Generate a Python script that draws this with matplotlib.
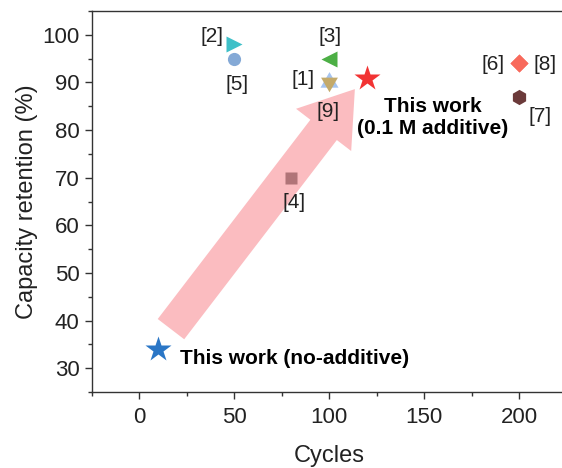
import matplotlib
matplotlib.use("Agg")
import matplotlib.pyplot as plt
from matplotlib.patches import FancyArrowPatch
from matplotlib.ticker import MultipleLocator

plt.rcParams['font.family'] = ['Liberation Sans', 'DejaVu Sans']

# Literature data: (cycles, retention)
ref_labels = ['[1]', '[2]', '[3]', '[4]', '[5]', '[6]', '[7]', '[8]', '[9]']
ref_cycles = [100, 50, 100, 80, 50, 200, 200, 200, 100]
ref_retention = [90, 98, 95, 70, 95, 94, 87, 94, 90]
tri_up = [(0, 1), (-0.866, -0.5), (0.866, -0.5)]
tri_down = [(0, -1), (-0.866, 0.5), (0.866, 0.5)]
ref_markers = [tri_up, '>', '<', 's', 'o', 'D', 'h', 'D', tri_down]
ref_colors = ['#a6c4ef', '#3fc0c8', '#4caf45', '#b07478', '#84a9d6',
              '#f86a5c', '#6b3a3a', '#f86a5c', '#c4aa6a']
ref_sizes = [15, 11, 11, 8, 9.5, 9, 11, 9, 14]
# label positions (data units)
ref_label_pos = [(86, 90.7), (38, 99.7), (100.4, 99.7), (81.4, 64.7), (51.4, 89.6),
                 (186.3, 93.8), (211, 82.9), (213.7, 93.8), (99.3, 84.0)]

# This work
work_cycles = [10, 120]
work_retention = [34, 91]
work_colors = ['#2a76c6', '#f23333']
work_texts = ['This work (no-additive)', 'This work\n(0.1 M additive)']

fig = plt.figure(figsize=(5.62, 4.68), dpi=100)
ax = fig.add_axes([92/562, 76/468, 474.5/562, 381/468])

# Arrow
arrow = FancyArrowPatch((16.6, 38.2), (113.5, 88.6),
                        arrowstyle='simple,head_length=37,head_width=50,tail_width=24',
                        mutation_scale=1, facecolor='#fbbcc0', edgecolor='none',
                        shrinkA=0, shrinkB=0, zorder=1)
ax.add_patch(arrow)

for i in [7, 0, 1, 2, 3, 4, 5, 6, 8]:
    ax.plot(ref_cycles[i], ref_retention[i], marker=ref_markers[i], ms=ref_sizes[i],
            color=ref_colors[i], mec='none', ls='none', zorder=3)

for lab, (lx, ly) in zip(ref_labels, ref_label_pos):
    ax.text(lx, ly, lab, fontsize=15, ha='center', va='center', color='#222222', zorder=4)

for c, r, col in zip(work_cycles, work_retention, work_colors):
    ax.plot(c, r, marker='*', ms=19, color=col, mec='none', ls='none', zorder=3)

ax.text(21.3, 32.0, work_texts[0], fontsize=15, fontweight='bold', ha='left', va='center', zorder=4)
ax.text(154.5, 82.6, work_texts[1], fontsize=15, fontweight='bold', ha='center', va='center',
        linespacing=1.2, zorder=4)

ax.set_xlim(-25, 225)
ax.set_ylim(25, 105)
ax.set_xticks([0, 50, 100, 150, 200])
ax.set_yticks([30, 40, 50, 60, 70, 80, 90, 100])
ax.xaxis.set_minor_locator(MultipleLocator(25))
ax.yaxis.set_minor_locator(MultipleLocator(5))
ax.tick_params(which='major', direction='out', length=5, width=1, labelsize=16,
               colors='#333333', labelcolor='#222222')
ax.tick_params(axis='x', which='major', pad=6)
ax.tick_params(axis='y', which='major', pad=4)
ax.tick_params(which='minor', direction='out', length=3, width=1, colors='#333333')
ax.spines['right'].set_visible(False)
for s in ['left', 'bottom', 'top']:
    ax.spines[s].set_color('#333333')
    ax.spines[s].set_linewidth(1)

ax.set_xlabel('Cycles', fontsize=17, color='#222222', labelpad=12)
ax.set_ylabel('Capacity retention (%)', fontsize=17, color='#222222', labelpad=3)

fig.savefig('out.png', dpi=100)
